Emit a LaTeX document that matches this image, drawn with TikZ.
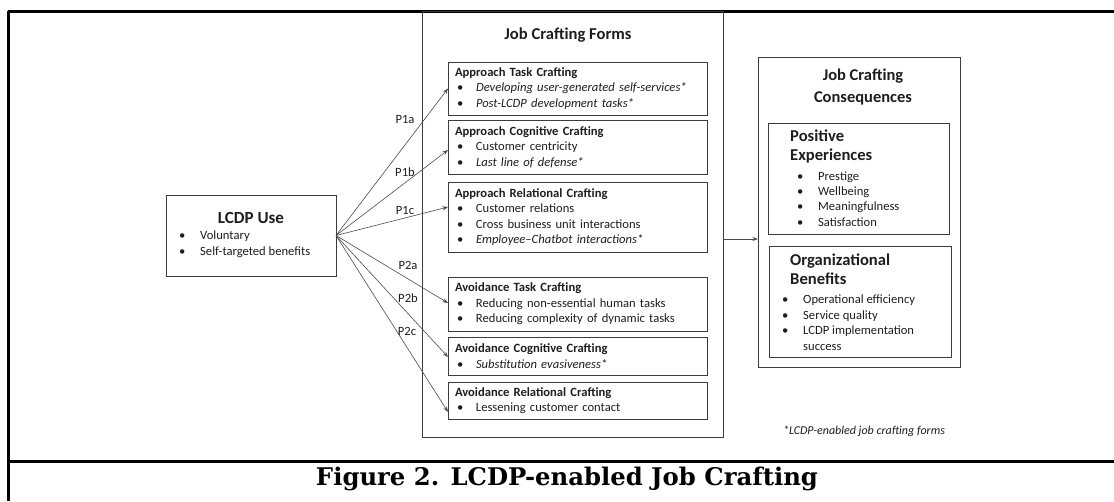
\documentclass[tikz,border=0pt]{standalone}
\usepackage{graphicx}
\usepackage{fontspec}
\setmainfont{Carlito}
\newfontfamily\capfont{DejaVu Serif}
\usetikzlibrary{arrows.meta}
\definecolor{boxgray}{HTML}{3C3C3C}
\definecolor{arrgray}{HTML}{4A4A4A}
\definecolor{txt}{HTML}{1E1E1E}
% bullet followed by a fixed gap up to the item text
\newcommand\bul[1][21pt]{\makebox[#1][l]{•}}
\newcommand\fb{\hspace*{2pt}\makebox[19pt][l]{•}}

\begin{document}
\begin{tikzpicture}[x=1pt,y=-1pt,
  frame/.style={line width=3pt, black},
  box/.style={draw=boxgray, line width=0.8pt, inner sep=0pt, outer sep=0pt},
  formbox/.style={box, anchor=north west, minimum width=259pt, text width=245pt,
    align=left, inner xsep=7pt, inner ysep=0pt,
    font=\fontsize{12.6}{15.5}\selectfont, text=txt},
  item/.style={anchor=west, inner sep=0pt, text=txt, text height=8.5pt, text depth=2.5pt,
    font=\fontsize{12.6}{14}\selectfont},
  head/.style={anchor=west, inner sep=0pt, text=txt, text height=11pt, text depth=3pt,
    font=\fontsize{16.6}{18}\selectfont\bfseries},
  plab/.style={inner sep=0pt, text=txt, font=\fontsize{12.6}{14}\selectfont},
  arr/.style={draw=arrgray, line width=0.6pt, -{Stealth[length=5.5pt,width=4pt]}}
]
\useasboundingbox (0,0) rectangle (1114,501);

% page frame and caption rule
\draw[frame] (8,11) -- (1114,11);
\draw[frame] (8,11) -- (8,501);
\draw[frame] (6.5,461) -- (1114,461);

% LCDP use
\node[box, anchor=north west, minimum width=170pt, minimum height=81pt] (lcdp) at (166,195) {};
\node[inner sep=0pt, text=txt, font=\fontsize{17}{18}\selectfont\bfseries] (lcdpt) at (251,218) {LCDP Use};
\node[item] (lcdp1) at (179,236) {\bul Voluntary};
\node[item] (lcdp2) at (179,252) {\bul Self-targeted benefits};

% job crafting forms
\node[box, anchor=north west, minimum width=301pt, minimum height=426pt] (jcf) at (422,11) {};
\node[inner sep=0pt, text=txt, font=\fontsize{16.6}{18}\selectfont\bfseries] (jcft) at (568,35) {Job Crafting Forms};

\node[formbox, minimum height=53pt] (atc) at (448,62) {\textbf{Approach Task Crafting}\\
  \fb\textit{Developing user-generated self-services*}\\
  \fb\textit{Post-LCDP development tasks*}};
\node[formbox, minimum height=54pt] (acc) at (448,120) {\textbf{Approach Cognitive Crafting}\\
  \fb Customer centricity\\
  \fb\textit{Last line of defense*}};
\node[formbox, minimum height=70pt] (arc) at (448,182) {\textbf{Approach Relational Crafting}\\
  \fb Customer relations\\
  \fb Cross business unit interactions\\
  \fb\textit{Employee--Chatbot interactions*}};
\node[formbox, minimum height=54pt] (avt) at (448,277) {\textbf{Avoidance Task Crafting}\\
  \fb Reducing non-essential human tasks\\
  \fb Reducing complexity of dynamic tasks};
\node[formbox, minimum height=38pt] (avc) at (448,337) {\textbf{Avoidance Cognitive Crafting}\\
  \fb\textit{Substitution evasiveness*}};
\node[formbox, minimum height=37pt] (avr) at (448,382) {\textbf{Avoidance Relational Crafting}\\
  \fb Lessening customer contact};

% job crafting consequences
\node[box, anchor=north west, minimum width=202pt, minimum height=310pt] (jcc) at (758,57) {};
\node[inner sep=0pt, text=txt, align=center, font=\fontsize{16.5}{21.5}\selectfont\bfseries] (jcct) at (863,87) {Job Crafting\\Consequences};

\node[box, anchor=north west, minimum width=181pt, minimum height=111pt] (pe) at (768,123) {};
\node[head] (pet1) at (790,137) {Positive};
\node[head] (pet2) at (790,156) {Experiences};
\node[item] (pe1) at (797,177) {\bul Prestige};
\node[item] (pe2) at (797,192) {\bul Wellbeing};
\node[item] (pe3) at (797,207) {\bul Meaningfulness};
\node[item] (pe4) at (797,223) {\bul Satisfaction};

\node[box, anchor=north west, minimum width=182pt, minimum height=111pt] (ob) at (769,246) {};
\node[head] (obt1) at (790,261) {Organizational};
\node[head] (obt2) at (790,280) {Benefits};
\node[item] (ob1) at (782,300) {\bul Operational efficiency};
\node[item] (ob2) at (782,316) {\bul Service quality};
\node[item] (ob3) at (782,331) {\bul LCDP implementation};
\node[item] (ob4) at (803,347) {success};

% propositions
\draw[arr] (lcdp.east) -- (atc.west);
\draw[arr] (lcdp.east) -- ([yshift=-3pt]acc.west);
\draw[arr] (lcdp.east) -- ([yshift=10pt]arc.west);
\draw[arr] (lcdp.east) -- ([yshift=1pt]avt.west);
\draw[arr] (lcdp.east) -- ([yshift=-1pt]avc.west);
\draw[arr] (lcdp.east) -- ([yshift=-11.5pt]avr.west);
\draw[arr] ([yshift=-15pt]jcf.east) -- ([yshift=-27pt]jcc.west);

\node[plab] (p1a) at (405,119) {P1a};
\node[plab] (p1b) at (405,172) {P1b};
\node[plab] (p1c) at (405,210) {P1c};
\node[plab] (p2a) at (408,265) {P2a};
\node[plab] (p2b) at (408,298) {P2b};
\node[plab] (p2c) at (407,331) {P2c};

% footnote and caption
\node[anchor=west, inner sep=0pt, text=txt, font=\fontsize{12}{14}\selectfont\itshape] (fn) at (783,431) {*LCDP-enabled job crafting forms};
\node[anchor=base, inner sep=0pt] (cap) at (567,485) {\resizebox{502pt}{!}{\capfont\bfseries Figure 2. LCDP-enabled Job Crafting}};
\end{tikzpicture}
\end{document}
